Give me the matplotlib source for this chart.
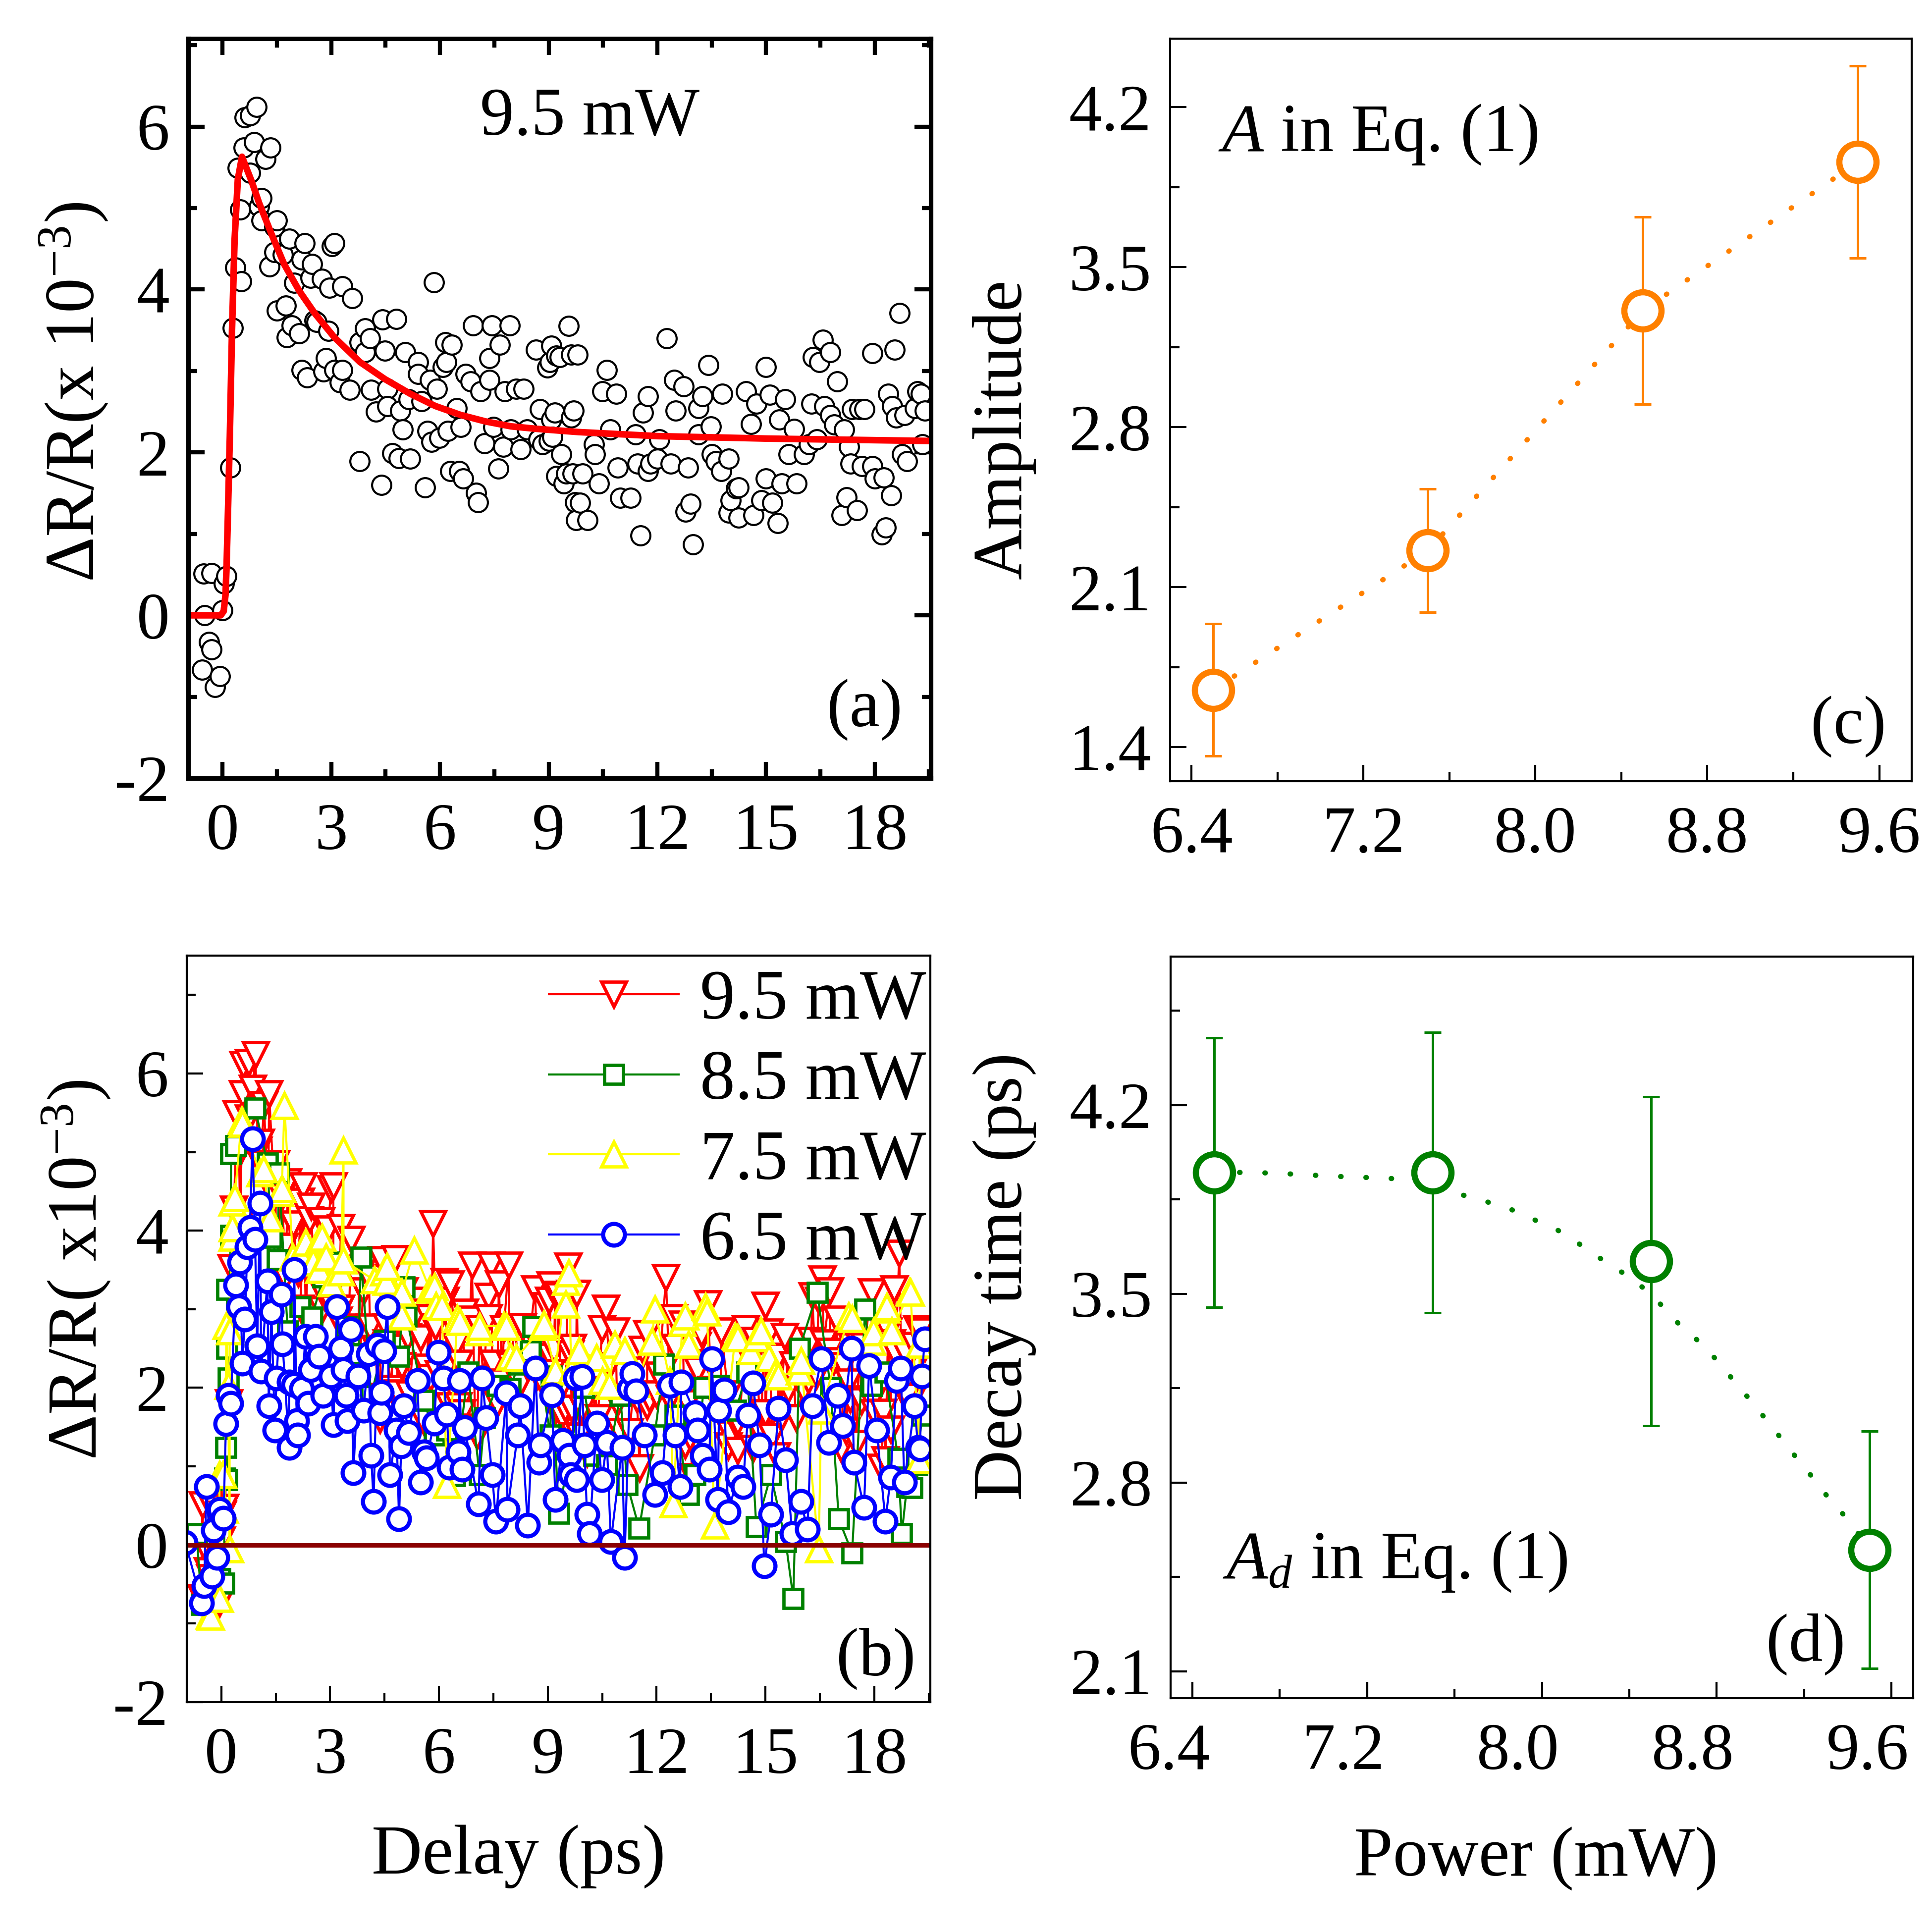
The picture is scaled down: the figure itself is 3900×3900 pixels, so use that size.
import numpy as np
import matplotlib
matplotlib.use("Agg")
import matplotlib.pyplot as plt
from matplotlib.ticker import MultipleLocator, FormatStrFormatter
from matplotlib.transforms import ScaledTranslation

plt.rcParams['font.family'] = ['Liberation Serif', 'DejaVu Serif']
plt.rcParams['mathtext.fontset'] = 'custom'
plt.rcParams['mathtext.rm'] = 'Liberation Serif'
plt.rcParams['mathtext.it'] = 'Liberation Serif:italic'
plt.rcParams['axes.unicode_minus'] = False

# ---- (a) 9.5 mW data (also the 9.5 mW trace of (b)) ----
delay_95 = [-0.56, -0.52, -0.49, -0.38, -0.31, -0.31, -0.21, -0.07, 0.0, 0.03, 0.10, 0.21, 0.28, 0.35,
            0.42, 0.49, 0.52, 0.59, 0.61, 0.76, 0.76, 0.87, 0.94, 1.01, 1.08, 1.08, 1.18, 1.29, 1.32,
            1.43, 1.43, 1.50, 1.50, 1.67, 1.74, 1.77, 1.84, 1.91, 1.98, 2.12, 2.19, 2.19, 2.26, 2.33,
            2.43, 2.47, 2.54, 2.60, 2.75, 2.78, 2.85, 2.92, 2.95, 3.02, 3.09, 3.09, 3.23, 3.30, 3.30,
            3.51, 3.58, 3.79, 3.79, 3.93, 3.93, 4.07, 4.10, 4.24, 4.38, 4.41, 4.48, 4.55, 4.55, 4.69,
            4.80, 4.86, 4.90, 4.97, 5.04, 5.14, 5.18, 5.39, 5.39, 5.49, 5.59, 5.66, 5.73, 5.77, 5.84,
            5.91, 5.98, 6.08, 6.15, 6.18, 6.22, 6.29, 6.32, 6.46, 6.53, 6.57, 6.64, 6.71, 6.85, 6.91,
            7.00, 7.05, 7.12, 7.23, 7.37, 7.37, 7.44, 7.47, 7.61, 7.65, 7.75, 7.79, 7.92, 7.96, 8.10,
            8.23, 8.31, 8.41, 8.65, 8.72, 8.76, 8.83, 8.96, 9.00, 9.03, 9.07, 9.07, 9.10, 9.17, 9.21,
            9.21, 9.31, 9.35, 9.42, 9.48, 9.56, 9.62, 9.62, 9.66, 9.69, 9.73, 9.76, 9.80, 9.87, 9.94,
            10.08, 10.25, 10.28, 10.39, 10.49, 10.60, 10.70, 10.87, 10.91, 10.98, 11.26, 11.40, 11.46,
            11.53, 11.61, 11.74, 11.74, 11.81, 12.00, 12.06, 12.26, 12.37, 12.47, 12.51, 12.72, 12.78,
            12.85, 12.92, 12.99, 13.13, 13.13, 13.24, 13.41, 13.48, 13.51, 13.62, 13.76, 13.79, 13.97,
            13.97, 14.03, 14.17, 14.24, 14.24, 14.45, 14.59, 14.66, 14.73, 14.87, 15.00, 15.00, 15.11,
            15.18, 15.32, 15.36, 15.43, 15.53, 15.63, 15.77, 15.84, 16.05, 16.19, 16.26, 16.29, 16.40,
            16.47, 16.57, 16.61, 16.78, 16.78, 16.89, 16.96, 17.09, 17.16, 17.23, 17.30, 17.34, 17.37,
            17.51, 17.58, 17.65, 17.72, 17.93, 17.93, 18.00, 18.20, 18.25, 18.31, 18.38, 18.45, 18.48,
            18.55, 18.59, 18.69, 18.76, 18.83, 18.90, 19.11, 19.18, 19.28, 19.32, 19.39]
dr_95 = [-0.67, 0.51, 0.00, -0.33, 0.52, -0.42, -0.88, -0.75, 0.06, 0.39, 0.48, 1.81, 3.53, 4.27,
         5.49, 4.98, 4.10, 5.74, 6.11, 6.14, 5.43, 5.81, 6.24, 5.02, 5.12, 4.85, 5.60, 4.28, 5.74,
         4.77, 4.46, 4.85, 3.74, 4.43, 3.80, 3.41, 4.62, 3.56, 4.08, 3.46, 4.37, 3.01, 4.57, 2.92,
         4.14, 4.31, 3.62, 3.60, 4.13, 2.99, 3.16, 3.49, 4.02, 4.53, 4.57, 3.01, 2.86, 4.04, 3.01,
         2.77, 3.89, 3.35, 1.89, 3.52, 3.23, 3.40, 2.77, 2.50, 1.60, 3.63, 3.25, 2.78, 2.57, 1.99,
         3.64, 1.93, 2.51, 2.28, 3.23, 2.65, 1.92, 3.11, 2.96, 2.63, 1.57, 2.26, 2.89, 2.13, 4.09,
         2.78, 2.18, 3.05, 3.35, 3.11, 2.26, 1.77, 3.32, 2.54, 1.77, 2.31, 1.68, 2.96, 2.87, 3.56,
         1.50, 1.39, 2.75, 2.11, 3.16, 2.89, 3.56, 2.31, 1.80, 3.32, 2.07, 2.75, 3.56, 2.28, 2.78,
         2.04, 2.78, 2.28, 3.26, 2.16, 2.53, 2.10, 3.04, 2.14, 3.11, 3.31, 2.40, 2.19, 2.49, 3.19,
         1.71, 3.17, 1.98, 1.62, 1.74, 3.55, 3.20, 2.43, 1.74, 2.51, 1.39, 1.17, 3.20, 1.38, 1.74,
         1.17, 2.10, 1.98, 1.62, 2.75, 3.01, 2.28, 2.72, 1.81, 1.44, 1.44, 2.22, 1.86,
         0.98, 2.49, 2.69, 1.77, 1.86, 1.92, 2.16, 3.40, 1.86, 2.89, 2.51, 2.81, 1.27,
         1.81, 1.37, 0.87, 2.54, 2.22, 2.69, 3.07, 2.32, 1.98, 1.89, 1.77, 2.72, 1.92,
         1.26, 1.41, 1.56, 1.57, 1.20, 2.75, 2.35, 1.23, 2.60, 1.41, 3.05, 1.68, 2.71,
         1.38, 1.13, 2.40, 1.62, 2.65, 1.98, 2.29, 1.62, 1.98, 2.10, 2.60, 3.17, 2.16,
         3.11, 3.38, 2.57, 3.23, 2.46, 2.34, 2.87, 1.23, 2.28, 1.45, 2.07, 1.86, 2.53,
         1.29, 2.53, 1.83, 2.53, 3.22, 1.83, 1.68, 0.99, 1.69, 1.08, 2.72, 1.47, 2.57,
         3.26, 2.43, 3.71, 1.98, 2.46, 1.89, 2.54, 2.75, 2.72, 2.10, 2.51]

# fit curve
fit_t = [-0.95, -0.05, 0.03, 0.08, 0.11, 0.15, 0.20, 0.26, 0.33, 0.42, 0.535, 0.80, 1.01, 1.36,
         1.70, 2.12, 2.54, 3.09, 3.79, 4.48, 5.18, 5.87, 6.57, 7.26, 7.96, 8.65, 9.82, 12.0, 15.0, 19.6]
fit_dr = [0.0, 0.0, 0.05, 0.25, 0.6, 1.3, 2.2, 3.5, 4.6, 5.35, 5.63, 5.33, 5.06, 4.67,
          4.31, 3.98, 3.71, 3.41, 3.11, 2.90, 2.72, 2.57, 2.46, 2.38, 2.32, 2.29, 2.25, 2.20, 2.17, 2.14]

# ---- (b) other powers ----
delay_85 = [-0.68, -0.54, -0.03, 0.07, 0.10, 0.13, 0.16, 0.16, 0.16, 0.19, 0.26, 0.27, 0.40, 0.93,
            1.27, 1.38, 1.55, 1.59, 1.83, 2.18, 2.50, 2.81, 3.09, 3.44, 3.78, 3.85, 4.13, 4.50, 4.90,
            5.04, 5.10, 5.59, 5.87, 6.22, 6.43, 6.50, 6.80, 7.12, 7.26, 7.61, 7.96, 8.20, 8.52, 8.59,
            9.07, 9.10, 9.31, 9.63, 10.00, 10.28, 10.63, 11.00, 11.19, 11.52, 11.95, 12.20, 12.51,
            12.88, 13.06, 13.30, 13.76, 14.18, 14.50, 14.75, 15.15, 15.56, 15.77, 15.94, 16.43, 16.80,
            17.02, 17.39, 17.75, 17.93, 18.30, 18.66, 18.76, 18.90, 19.04, 19.18, 19.32]
dr_85 = [0.14, -0.76, -0.43, -0.49, 0.85, 1.24, 0.83, 2.50, 3.25, 2.12, 3.94, 4.98, 5.08, 5.56,
         4.86, 3.91, 3.63, 4.73, 2.72, 3.03, 2.90, 3.41, 3.60, 2.78, 2.43, 3.66, 1.90, 2.60, 2.40,
         3.28, 2.91, 1.84, 1.40, 1.46, 0.88, 1.08, 2.20, 0.89, 1.62, 2.03, 1.99, 2.30, 2.47, 2.78,
         1.40, 2.15, 0.40, 1.27, 2.00, 1.14, 1.02, 1.90, 0.77, 0.21, 1.40, 2.30, 1.65,
         0.64, 0.89, 2.00, 2.03, 1.71, 2.20, 0.23, 0.89, 0.04, -0.68, 2.50, 3.21, 2.00,
         0.33, -0.10, 3.00, 2.03, 2.20, 1.10, 0.14, 0.74, 0.73, 1.02, 1.65]

delay_75 = [-0.33, -0.29, -0.05, -0.05, 0.05, 0.09, 0.14, 0.19, 0.23, 0.23, 0.30, 0.31, 0.31, 0.37,
            0.56, 0.58, 1.07, 1.16, 1.34, 1.62, 1.67, 1.74, 1.97, 2.18, 2.32, 2.53, 2.69, 2.70, 2.77,
            2.88, 3.03, 3.30, 3.37, 3.37, 4.22, 4.48, 4.55, 4.56, 4.97, 4.98, 5.31, 5.75, 5.87, 5.92,
            6.08, 6.22, 6.51, 6.57, 7.11, 7.12, 7.79, 7.86, 7.96, 8.13, 8.87, 8.89, 9.21, 9.49, 9.49,
            9.58, 9.65, 9.87, 10.34, 10.51, 10.70, 10.85, 11.12, 11.44, 11.87, 11.95, 12.37, 12.46,
            12.71, 12.79, 12.88, 13.34, 13.39, 13.60, 14.17, 14.24, 14.59, 14.75, 14.87, 15.09, 15.26,
            15.36, 15.94, 15.98, 16.47, 16.54, 17.30, 17.39, 17.93, 17.98, 18.32, 18.35, 18.48, 18.97,
            19.00, 19.25, 19.25]
dr_75 = [-0.90, -0.91, -0.68, 0.89, 0.89, 0.45, 2.79, 2.03, -0.05, 2.72, 3.91, 4.03, 4.36, 4.42,
         5.40, 5.36, 4.73, 4.78, 4.16, 4.48, 4.53, 5.59, 3.66, 3.70, 3.85, 3.60, 3.50, 3.88, 3.91,
         3.66, 3.33, 3.47, 5.02, 3.62, 3.37, 3.47, 3.35, 3.54, 2.91, 3.21, 3.75, 3.25, 3.28, 3.04,
         3.03, 0.77, 2.88, 2.84, 2.71, 2.78, 2.79, 2.78, 2.40, 2.38, 2.78, 2.81, 2.21, 3.35, 3.06,
         3.46, 2.21, 2.47, 2.38, 2.09, 2.03, 2.55, 2.47, 2.05, 2.59, 3.00, 2.09, 0.52,
         2.83, 2.91, 2.55, 3.03, 2.96, 0.25, 2.65, 2.63, 2.47, 2.63, 2.72, 2.38, 2.17,
         2.15, 2.21, 2.34, -0.05, 1.71, 2.91, 2.88, 2.59, 2.71, 3.00, 3.03, 2.72, 3.22,
         3.21, 1.08, 2.55]

delay_65 = [-0.99, -0.54, -0.47, -0.41, -0.26, -0.22, -0.12, -0.05, 0.06, 0.13, 0.20, 0.26, 0.40,
            0.48, 0.51, 0.58, 0.65, 0.72, 0.79, 0.86, 0.93, 0.99, 1.07, 1.10, 1.27, 1.31, 1.38, 1.48,
            1.52, 1.66, 1.69, 1.87, 1.87, 2.00, 2.01, 2.08, 2.11, 2.22, 2.32, 2.39, 2.46, 2.60, 2.70,
            2.81, 3.02, 3.09, 3.19, 3.30, 3.37, 3.44, 3.47, 3.57, 3.64, 3.78, 3.92, 4.06, 4.13, 4.20,
            4.30, 4.37, 4.41, 4.48, 4.58, 4.65, 4.83, 4.90, 4.96, 5.03, 5.17, 5.41, 5.49, 5.59, 5.66,
            5.87, 5.98, 6.12, 6.22, 6.29, 6.53, 6.57, 6.64, 6.71, 7.09, 7.19, 7.30, 7.47, 7.57, 7.86,
            7.89, 8.17, 8.24, 8.45, 8.66, 8.76, 8.80, 9.11, 9.21, 9.42, 9.59, 9.63, 9.77, 9.80, 9.94,
            10.01, 10.08, 10.15, 10.35, 10.49, 10.63, 10.74, 11.05, 11.12, 11.26, 11.33, 11.43, 11.67,
            11.95, 12.16, 12.37, 12.51, 12.65, 12.68, 13.06, 13.13, 13.27, 13.45, 13.52, 13.69, 13.72,
            13.86, 13.97, 14.24, 14.38, 14.52, 14.66, 14.84, 14.97, 15.15, 15.36, 15.56, 15.74, 15.98,
            16.16, 16.29, 16.54, 16.75, 16.99, 17.13, 17.37, 17.44, 17.72, 17.86, 18.07, 18.31, 18.45,
            18.62, 18.73, 18.83, 19.11, 19.21, 19.26, 19.32, 19.39]
dr_65 = [0.03, -0.74, -0.52, 0.74, -0.40, 0.19, -0.16, 0.45, 0.34, 1.54, 1.90, 1.80, 3.31,
         3.03, 3.60, 2.31, 2.87, 3.79, 4.04, 5.17, 3.89, 2.53, 4.35, 2.21, 3.36, 1.77, 2.97, 1.46,
         2.12, 3.19, 2.56, 1.24, 2.07, 2.04, 3.50, 1.58, 1.40, 1.99, 2.65, 1.80, 2.23, 2.65, 2.40,
         1.90, 2.15, 1.53, 3.03, 2.50, 2.23, 1.90, 1.58, 2.74, 0.92, 2.15, 1.71, 2.43, 1.14, 0.55,
         2.54, 1.68, 1.94, 2.47, 3.03, 0.89, 1.46, 0.33, 1.26, 1.77, 1.43, 2.09, 0.80, 1.18, 1.11,
         1.55, 2.45, 2.12, 1.66, 0.99, 1.18, 2.09, 0.96, 1.49, 0.52, 2.12, 1.62, 0.89, 0.30, 1.93,
         0.45, 1.40, 1.77, 0.25, 2.25, 1.05, 1.27, 1.91, 0.58, 1.33, 1.14, 0.89, 2.12, 0.83, 2.14,
         1.27, 0.39, 0.14, 1.55, 0.83, 1.30, 0.04, 1.24, -0.16, 1.99, 2.18, 1.96, 1.40,
         0.64, 0.92, 2.03, 1.40, 0.74, 2.07, 1.68, 1.46, 1.14, 0.96, 2.37, 0.58, 1.71,
         1.97, 0.42, 0.86, 0.74, 1.65, 2.06, 1.27, -0.27, 0.39, 1.74, 1.08, 0.14, 0.55,
         0.20, 1.77, 2.37, 1.30, 1.90, 1.52, 2.50, 1.05, 0.48, 2.28, 1.46, 0.30, 0.86,
         2.09, 2.25, 0.80, 1.77, 1.24, 1.22, 2.15, 2.62]

# ---- (c), (d) fit parameters vs power ----
power = [6.5, 7.5, 8.5, 9.5]
amplitude = [1.65, 2.26, 3.31, 3.96]
amplitude_err = [0.29, 0.27, 0.41, 0.42]
decay = [3.95, 3.95, 3.62, 2.55]
decay_err = [0.50, 0.52, 0.61, 0.44]
# dotted guide line through decay times
guide_p = [6.5, 6.67, 6.81, 7.04, 7.27, 7.5, 7.62, 7.72, 7.85, 7.95, 8.07, 8.18, 8.30, 8.42,
           8.52, 8.63, 8.75, 8.85, 8.95, 9.05, 9.14, 9.22, 9.31, 9.41, 9.5]
guide_tau = [3.95, 3.95, 3.946, 3.936, 3.929, 3.92, 3.87, 3.848, 3.816, 3.78, 3.737, 3.68, 3.613,
             3.553, 3.481, 3.385, 3.301, 3.205, 3.109, 3.01, 2.917, 2.838, 2.745, 2.654, 2.55]
power_ticks = [6.4, 7.2, 8.0, 8.8, 9.6]

TICK_FS = 32
LABEL_FS = 34
TEXT_FS = 33
orange = '#FF8000'
green = '#008000'

fig = plt.figure(figsize=(13, 13), dpi=300)
ax_a = fig.add_axes([0.0974, 0.5972, 0.3844, 0.3828])
ax_b = fig.add_axes([0.0967, 0.1190, 0.3849, 0.3864])
ax_c = fig.add_axes([0.6056, 0.5956, 0.3838, 0.3844])
ax_d = fig.add_axes([0.6059, 0.1210, 0.3844, 0.3838])

## (a)
ax_a.plot(delay_95, dr_95, 'o', ms=9.3, mfc='white', mec='black', mew=1.0, ls='none')
ax_a.plot(fit_t, fit_dr, color='red', lw=3.2, solid_joinstyle='round')
ax_a.set_xlim(-0.95, 19.55)
ax_a.set_ylim(-2, 7.08)
ax_a.xaxis.set_major_locator(MultipleLocator(3))
ax_a.xaxis.set_minor_locator(MultipleLocator(1.5))
ax_a.yaxis.set_major_locator(MultipleLocator(2))
ax_a.yaxis.set_minor_locator(MultipleLocator(1))
ax_a.tick_params(which='both', direction='in', top=True, right=True, width=2, labelsize=TICK_FS)
ax_a.tick_params(which='major', length=8)
ax_a.tick_params(which='minor', length=4.3)
ax_a.tick_params(axis='x', pad=12)
ax_a.tick_params(axis='y', pad=9)
for s in ax_a.spines.values():
    s.set_linewidth(2.2)
ax_a.set_ylabel('ΔR/R(x 10$^{-3}$)', fontsize=LABEL_FS)
ax_a.yaxis.set_label_coords(-0.105, 0.522)
ax_a.text(0.541, 0.870, '9.5 mW', transform=ax_a.transAxes, fontsize=TEXT_FS, ha='center', va='baseline')
ax_a.text(0.911, 0.092, '(a)', transform=ax_a.transAxes, fontsize=TEXT_FS, ha='center', va='center')

## (b)
ms_kw = dict(mfc='white', lw=1.0)
ax_b.plot(delay_95, dr_95, color='red', marker='v', ms=12, mew=1.6, label='9.5 mW', **ms_kw)
ax_b.plot(delay_85, dr_85, color=green, marker='s', ms=9, mew=1.6, label='8.5 mW', **ms_kw)
ax_b.plot(delay_75, dr_75, color='yellow', marker='^', ms=12, mew=1.6, label='7.5 mW', **ms_kw)
ax_b.axhline(0, color='#8B0000', lw=2.2, zorder=2.5)
ax_b.plot(delay_65, dr_65, color='blue', marker='o', ms=10.5, mew=2.0, label='6.5 mW', **ms_kw)
ax_b.set_xlim(-0.95, 19.55)
ax_b.set_ylim(-2, 7.5)
ax_b.xaxis.set_major_locator(MultipleLocator(3))
ax_b.xaxis.set_minor_locator(MultipleLocator(1.5))
ax_b.yaxis.set_major_locator(MultipleLocator(2))
ax_b.yaxis.set_minor_locator(MultipleLocator(1))
ax_b.tick_params(which='both', direction='in', width=1, labelsize=TICK_FS)
ax_b.tick_params(which='major', length=8)
ax_b.tick_params(which='minor', length=4.3)
ax_b.tick_params(axis='x', pad=12)
ax_b.tick_params(axis='y', pad=9)
for s in ax_b.spines.values():
    s.set_linewidth(1.0)
ax_b.set_ylabel('ΔR/R( x10$^{-3}$)', fontsize=LABEL_FS)
ax_b.yaxis.set_label_coords(-0.10, 0.579)
ax_b.set_xlabel('Delay (ps)', fontsize=LABEL_FS)
ax_b.xaxis.set_label_coords(0.446, -0.164)
ax_b.legend(loc='upper right', bbox_to_anchor=(1.013, 1.0), frameon=False, fontsize=34,
            handlelength=1.85, handletextpad=0.3, labelspacing=0.23, borderpad=0.1, borderaxespad=0.1)
ax_b.text(0.927, 0.058, '(b)', transform=ax_b.transAxes, fontsize=TEXT_FS, ha='center', va='center')

## (c)
ax_c.errorbar(power, amplitude, yerr=amplitude_err, fmt='none', ecolor=orange, elinewidth=1.2,
              capsize=4, capthick=1.2)
ax_c.plot(power, amplitude, color=orange, lw=2.5, ls=(0, (0.1, 4.8)), dash_capstyle='round')
ax_c.plot(power, amplitude, 'o', ms=18, mfc='white', mec=orange, mew=3, ls='none')
ax_c.set_xlim(6.3, 9.75)
ax_c.set_ylim(1.25, 4.5)
ax_c.set_ylabel('Amplitude', fontsize=LABEL_FS)
ax_c.yaxis.set_label_coords(-0.181, 0.474)
ax_c.text(0.065, 0.849, '$A$ in Eq. (1)', transform=ax_c.transAxes, fontsize=TEXT_FS, ha='left', va='baseline')
ax_c.text(0.915, 0.073, '(c)', transform=ax_c.transAxes, fontsize=TEXT_FS, ha='center', va='center')

## (d)
ax_d.errorbar(power, decay, yerr=decay_err, fmt='none', ecolor=green, elinewidth=1.2,
              capsize=4, capthick=1.2)
ax_d.plot(guide_p, guide_tau, color=green, lw=2.5, ls=(0, (0.1, 4.8)), dash_capstyle='round')
ax_d.plot(power, decay, 'o', ms=18, mfc='white', mec=green, mew=3, ls='none')
ax_d.set_xlim(6.3, 9.7)
ax_d.set_ylim(2.0, 4.75)
ax_d.set_ylabel('Decay time (ps)', fontsize=LABEL_FS)
ax_d.yaxis.set_label_coords(-0.181, 0.569)
ax_d.set_xlabel('Power (mW)', fontsize=LABEL_FS)
ax_d.xaxis.set_label_coords(0.492, -0.173)
ax_d.text(0.070, 0.162, '$A_d$ in Eq. (1)', transform=ax_d.transAxes, fontsize=TEXT_FS, ha='left', va='baseline')
ax_d.text(0.855, 0.073, '(d)', transform=ax_d.transAxes, fontsize=TEXT_FS, ha='center', va='center')

for ax in (ax_c, ax_d):
    ax.set_xticks(power_ticks)
    ax.xaxis.set_minor_locator(MultipleLocator(0.4))
    ax.yaxis.set_major_locator(MultipleLocator(0.7))
    ax.yaxis.set_minor_locator(MultipleLocator(0.35))
    ax.xaxis.set_major_formatter(FormatStrFormatter('%.1f'))
    ax.yaxis.set_major_formatter(FormatStrFormatter('%.1f'))
    ax.tick_params(which='both', direction='in', width=1, labelsize=TICK_FS)
    ax.tick_params(which='major', length=8)
    ax.tick_params(which='minor', length=4.5)
    ax.tick_params(axis='x', pad=12)
    ax.tick_params(axis='y', pad=9)
    for s in ax.spines.values():
        s.set_linewidth(1.0)

# in (d) the power labels sit a little left of their ticks
shift = ScaledTranslation(-11.5 / 72, 0, fig.dpi_scale_trans)
for lab in ax_d.get_xticklabels():
    lab.set_transform(lab.get_transform() + shift)

fig.savefig('out.png', dpi=300)
